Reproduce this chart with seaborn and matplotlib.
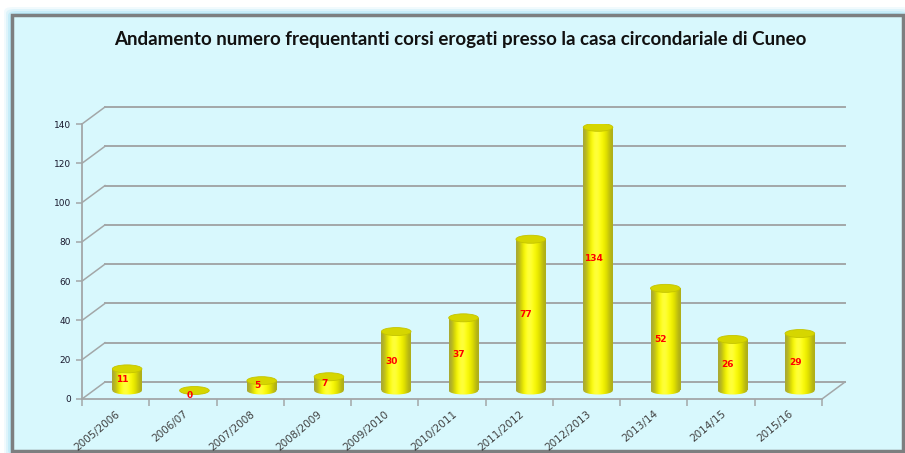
import numpy as np
import seaborn as sns
import matplotlib.pyplot as plt
from matplotlib.patches import Rectangle, Ellipse, FancyBboxPatch

years = ['2005/2006', '2006/07', '2007/2008', '2008/2009', '2009/2010', '2010/2011',
         '2011/2012', '2012/2013', '2013/14', '2014/15', '2015/16']
attendees = [11, 0, 5, 7, 30, 37, 77, 134, 52, 26, 29]
y_ticks = [0, 20, 40, 60, 80, 100, 120, 140]

title = 'Andamento numero frequentanti corsi erogati presso la casa circondariale di Cuneo'

W, H = 905, 453
fig = plt.figure(figsize=(W / 100, H / 100), dpi=100)
fig.patch.set_facecolor('white')

# glow + frame of the chart area (behind the axes)
for i, a in enumerate([0.15, 0.25, 0.4, 0.6]):
    pad = 8 - 2 * i
    fig.patches.append(FancyBboxPatch(
        ((12 - pad) / W, 1 - (451 + pad) / H), (891 + 2 * pad) / W, (436 + 2 * pad) / H,
        boxstyle='round,pad=0,rounding_size=0.01', transform=fig.transFigure,
        facecolor='#a6e3f7', edgecolor='none', alpha=a, zorder=-3))
fig.patches.append(Rectangle((12 / W, 1 - 451 / H), 891 / W, 436 / H,
                             transform=fig.transFigure, facecolor='#d8f8fd',
                             edgecolor='#7d7f80', linewidth=2.5, zorder=-2))

fig.text(460 / W, 1 - 40 / H, title, ha='center', va='center', fontsize=13.5,
         fontweight='bold', family=['Liberation Sans Narrow', 'Lato', 'DejaVu Sans'],
         color='#111111')

# front plane of the 3d box
ax = fig.add_axes([82 / W, 54 / H, 740 / W, 275 / H])
ax.set_facecolor('none')

n = len(years)
dx = 23 / (740 / n)       # depth offset in data units
dy = 17 / (275 / 140)
grid_col = '#a3a7a8'

sns.barplot(x=years, y=attendees, color='#ffff00', width=0.44, ax=ax, zorder=3)

# back wall gridlines and the diagonal side lines
for v in y_ticks:
    ax.plot([-0.5 + dx, n - 0.5 + dx], [v + dy, v + dy], color=grid_col, lw=1.4,
            clip_on=False, zorder=1)
    ax.plot([-0.5, -0.5 + dx], [v, v + dy], color=grid_col, lw=1.1, clip_on=False, zorder=1)
ax.plot([n - 0.5, n - 0.5 + dx], [0, dy], color=grid_col, lw=1.1, clip_on=False, zorder=1)

grad = np.array([[0.66, 0.66, 0.2], [0.85, 0.85, 0.0], [1.0, 1.0, 0.05], [1.0, 1.0, 0.3],
                 [1.0, 1.0, 0.1], [0.95, 0.95, 0.0], [0.85, 0.85, 0.0], [0.68, 0.68, 0.1]])
grad = grad[np.newaxis, :, :]
eh = 8 / (275 / 140)

for patch, v in zip(ax.patches, attendees):
    w = patch.get_width()
    x0 = patch.get_x() + dx / 2
    patch.set_x(x0)
    patch.set_y(dy / 2)
    patch.set_facecolor('none')
    patch.set_edgecolor('none')
    cx = x0 + w / 2
    base = dy / 2
    bottom = Ellipse((cx, base), w, eh, transform=ax.transData, facecolor='none',
                     edgecolor='none')
    ax.add_patch(bottom)
    im = ax.imshow(grad, extent=[x0, x0 + w, base - eh, base + v], aspect='auto',
                   zorder=3, interpolation='bicubic')
    im.set_clip_path(bottom)
    if v > 0:
        im2 = ax.imshow(grad, extent=[x0, x0 + w, base, base + v], aspect='auto',
                        zorder=3, interpolation='bicubic')
        im2.set_clip_path(patch)
    ax.add_patch(Ellipse((cx, base + v), w, eh, facecolor='#d6d600',
                         edgecolor='#c4c400', lw=0.6, zorder=4))
    ax.text(cx - 0.07, base + v / 2 - (2.5 if v == 0 else 0), str(v), color='#ff0000',
            fontsize=6.5, fontweight='bold', ha='center', va='center', zorder=5)

ax.set_xlim(-0.5, n - 0.5)
ax.set_ylim(0, 140)
ax.set_yticks(y_ticks)
ax.set_xlabel('')
ax.set_ylabel('')
ax.set_xticks(range(n))
ax.set_xticklabels(years, rotation=40, ha='right', rotation_mode='anchor',
                   fontsize=7.5, color='#404040')
ax.set_xticks(np.arange(-0.5, n), minor=True)
ax.tick_params(axis='x', which='major', length=0, pad=7)
ax.tick_params(axis='x', which='minor', length=5, color=grid_col, width=1.1)
ax.tick_params(axis='y', length=4, color=grid_col, width=1.1, labelsize=6.5,
               labelcolor='#1a1a2e', pad=4)
for s in ['top', 'right']:
    ax.spines[s].set_visible(False)
for s in ['left', 'bottom']:
    ax.spines[s].set_color(grid_col)
    ax.spines[s].set_linewidth(1.3)

fig.savefig('out.png', dpi=100)
